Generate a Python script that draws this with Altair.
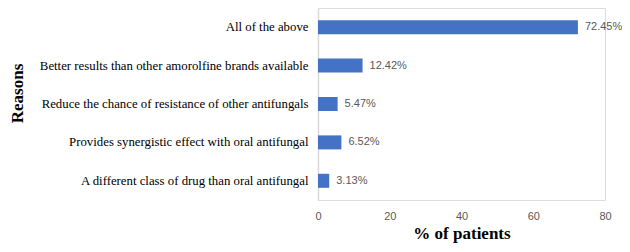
import altair as alt
import pandas as pd

reasons = [
    "All of the above",
    "Better results than other amorolfine brands available",
    "Reduce the chance of resistance of other antifungals",
    "Provides synergistic effect with oral antifungal",
    "A different class of drug than oral antifungal",
]
percent = [72.45, 12.42, 5.47, 6.52, 3.13]
labels = ["72.45%", "12.42%", "5.47%", "6.52%", "3.13%"]

df = pd.DataFrame({"reason": reasons, "pct": percent, "label": labels})

y = alt.Y(
    "reason:N",
    sort=None,
    title="Reasons",
    scale=alt.Scale(paddingInner=0.64, paddingOuter=0.32),
    axis=alt.Axis(
        domain=True, domainColor="#d9d9d9", domainWidth=1.5, ticks=False,
        labelFont="Liberation Serif", labelFontSize=12.8, labelColor="#000000",
        labelPadding=10, labelLimit=400,
        titleFont="Liberation Serif", titleFontSize=17, titleFontWeight="bold",
        titleColor="#000000", titleX=-301, titleY=85, titleBaseline="middle",
        titleAngle=270,
    ),
)
x = alt.X(
    "pct:Q",
    title="% of patients",
    scale=alt.Scale(domain=[0, 80], nice=False),
    axis=alt.Axis(
        values=[0, 20, 40, 60, 80], grid=False, domain=False, ticks=False,
        labelFont="Liberation Sans", labelFontSize=11, labelColor="#595959",
        labelPadding=10, labelFlush=False,
        titleFont="Liberation Serif", titleFontSize=17, titleFontWeight="bold",
        titleColor="#000000", titlePadding=4,
    ),
)

bars = alt.Chart(df).mark_bar(color="#4472C4", size=14).encode(x=x, y=y)
text = alt.Chart(df).mark_text(
    align="left", baseline="middle", dx=7, font="Liberation Sans",
    fontSize=11, color="#595959"
).encode(x="pct:Q", y=alt.Y("reason:N", sort=None), text="label:N")

chart = (bars + text).properties(
    width=287, height=192,
    autosize=alt.AutoSizeParams(type="none"),
    padding={"left": 310, "top": 0, "right": 17, "bottom": 44},
).configure_view(stroke=None).configure(background="white")

chart.save("out.html", embed_options={"renderer": "svg", "actions": False})
